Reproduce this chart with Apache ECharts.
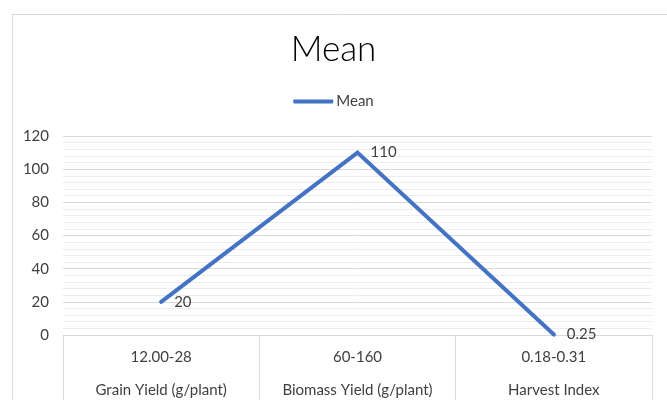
<!DOCTYPE html>
<html>
<head>
<meta charset="utf-8">
<script src="https://cdn.jsdelivr.net/npm/echarts@6/dist/echarts.min.js"></script>
<style>
html,body{margin:0;padding:0;background:#fff;}
#chart{width:667px;height:400px;}
</style>
</head>
<body>
<div id="chart"></div>
<script>
var rangeLabels = ["12.00-28", "60-160", "0.18-0.31"];
var traitLabels = ["Grain Yield (g/plant)", "Biomass Yield (g/plant)", "Harvest Index"];
var meanValues = [20, 110, 0.25];
var seriesName = "Mean";
var titleText = "Mean";

var categories = rangeLabels.map(function (r, i) { return r + "\n" + traitLabels[i]; });
var font = "Lato, 'Open Sans', sans-serif";

var chart = echarts.init(document.getElementById('chart'), null, {renderer: 'canvas'});
chart.setOption({
  animation: false,
  backgroundColor: '#fff',
  textStyle: {fontFamily: font},
  graphic: [{
    type: 'rect', left: 10, top: 12, silent: true,
    shape: {width: 700, height: 420},
    style: {fill: 'none', stroke: '#d9d9d9', lineWidth: 1}
  }],
  title: {
    text: titleText, left: 'center', top: 27,
    textStyle: {fontFamily: font, fontSize: 35, fontWeight: 300, color: '#000'}
  },
  legend: {
    data: [{name: seriesName, itemStyle: {color: '#4472c4', opacity: 1}}],
    top: 89, left: 'center',
    itemWidth: 40, itemHeight: 4, itemGap: 4,
    icon: 'roundRect',
    textStyle: {fontFamily: font, fontSize: 15, color: '#404040', padding: [0,0,0,-2]}
  },
  grid: {left: 63, right: 15, top: 136, bottom: 65, containLabel: false, outerBoundsMode: 'none'},
  xAxis: {
    type: 'category', data: categories, boundaryGap: true,
    axisLine: {lineStyle: {color: '#d9d9d9', width: 1}},
    axisTick: {show: true, length: 66, alignWithLabel: false, lineStyle: {color: '#d9d9d9'}},
    axisLabel: {interval: 0, margin: 6, fontSize: 15, lineHeight: 33, color: '#404040', fontFamily: font}
  },
  yAxis: {
    type: 'value', min: 0, max: 120, interval: 20,
    axisLine: {show: false}, axisTick: {show: false},
    axisLabel: {fontSize: 15, color: '#404040', margin: 14, fontFamily: font},
    splitLine: {lineStyle: {color: '#d9d9d9', width: 1}},
    minorTick: {show: false, splitNumber: 5},
    minorSplitLine: {show: true, lineStyle: {color: '#ececec', width: 1}}
  },
  series: [{
    name: seriesName, type: 'line', data: meanValues,
    symbol: 'circle', symbolSize: 0.01, showSymbol: true,
    lineStyle: {color: '#4472c4', width: 4, cap: 'round', join: 'miter'},
    itemStyle: {color: '#4472c4'},
    label: {show: true, position: 'right', distance: 13, fontSize: 15, color: '#404040', fontFamily: font}
  }]
});
</script>
</body>
</html>
